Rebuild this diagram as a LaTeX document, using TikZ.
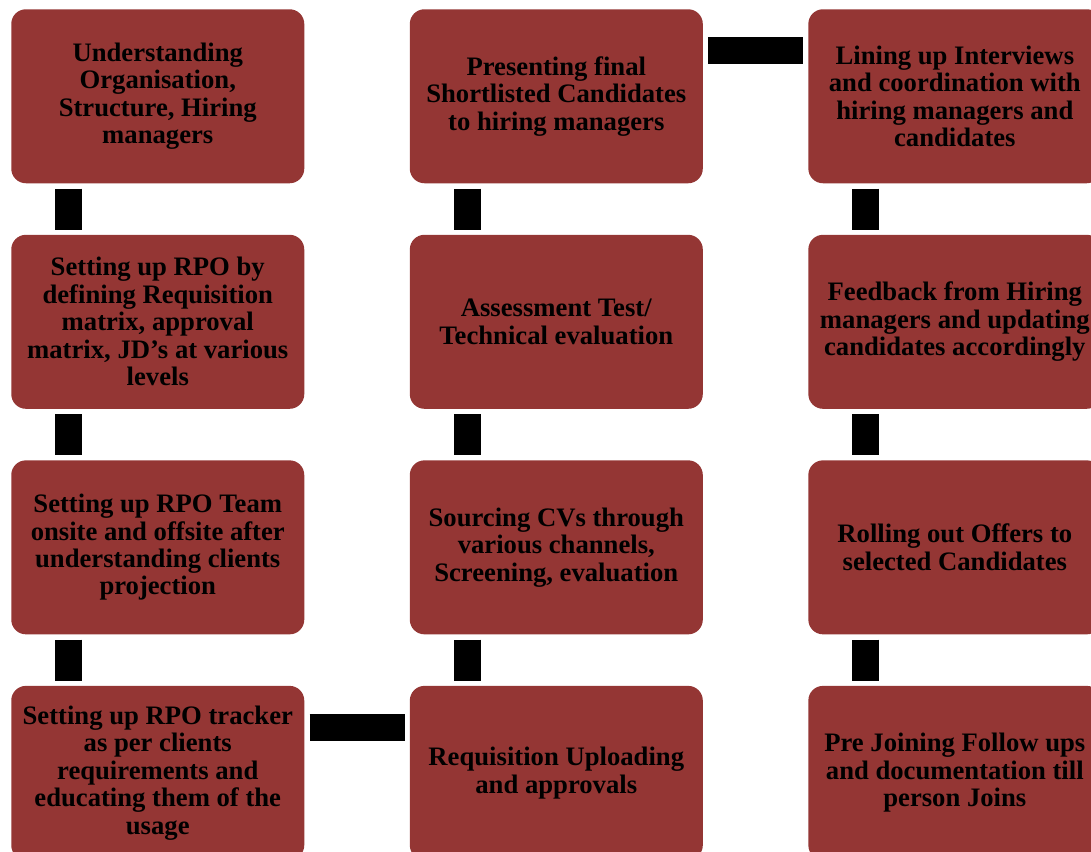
\documentclass[tikz,border=0pt]{standalone}
\usepackage{fontspec}
\setmainfont{Liberation Serif}
\usepackage{tikz}
\usetikzlibrary{
  positioning,
  calc
}
\usepackage{xcolor}
\definecolor{boxRed}{rgb}{0.58046875,0.2109375,0.203125}
\tikzset{
  stepBox/.style={
    rectangle,
    rounded corners=11pt,
    fill=boxRed,
    text=black,
    minimum width=219.75pt,
    minimum height=130.5pt,
    inner sep=2pt,
    align=center,
    font=\fontsize{20}{20.6}\selectfont\bfseries
  }
}
\tikzset{
  linkBar/.style={
    draw=black,
    line width=20.25pt,
    shorten <=3.75pt,
    shorten >=3.75pt
  }
}

\begin{document}
\begin{tikzpicture}[node distance=38.25pt and 78.75pt]
    \useasboundingbox (0,0) rectangle (818.25pt,-639pt);
    % first column, top to bottom
    \node[stepBox, anchor=north west] (understand) at (8.25pt,-6.75pt)
      {Understanding\\Organisation,\\Structure, Hiring\\managers};
    \node[stepBox, below=of understand] (rpoSetup)
      {Setting up RPO by\\defining Requisition\\matrix, approval\\matrix, JD’s at various\\levels};
    \node[stepBox, below=of rpoSetup] (rpoTeam)
      {Setting up RPO Team\\onsite and offsite after\\understanding clients\\projection};
    \node[stepBox, below=of rpoTeam] (rpoTracker)
      {Setting up RPO tracker\\as per clients\\requirements and\\educating them of the\\usage};
    % second column, bottom to top
    \node[stepBox, right=of rpoTracker] (uploading)
      {Requisition Uploading\\and approvals};
    \node[stepBox, above=of uploading] (sourcing)
      {Sourcing CVs through\\various channels,\\Screening, evaluation};
    \node[stepBox, above=of sourcing] (assessment)
      {Assessment Test/\\Technical evaluation};
    \node[stepBox, above=of assessment] (presenting)
      {Presenting final\\Shortlisted Candidates\\to hiring managers};
    % third column, top to bottom
    \node[stepBox, right=of presenting] (interviews)
      {Lining up Interviews\\and coordination with\\hiring managers and\\candidates};
    \node[stepBox, below=of interviews] (feedback)
      {Feedback from Hiring\\managers and updating\\candidates accordingly};
    \node[stepBox, below=of feedback] (offers)
      {Rolling out Offers to\\selected Candidates};
    \node[stepBox, below=of offers] (joining)
      {Pre Joining Follow ups\\and documentation till\\person Joins};
    \foreach \upperBox/\lowerBox in {understand/rpoSetup, rpoSetup/rpoTeam,
      rpoTeam/rpoTracker, sourcing/uploading, assessment/sourcing,
      presenting/assessment, interviews/feedback, feedback/offers,
      offers/joining}{
      \draw[linkBar]
      ($(\upperBox.south west)+(43.125pt,0)$) -- ($(\lowerBox.north west)+(43.125pt,0)$);
    }
    \foreach \leftBox/\rightBox in {rpoTracker/uploading, presenting/interviews}{
      \draw[linkBar]
      ($(\leftBox.north east)+(0,-31.125pt)$) -- ($(\rightBox.north west)+(0,-31.125pt)$);
    }
  \end{tikzpicture}
\end{document}
